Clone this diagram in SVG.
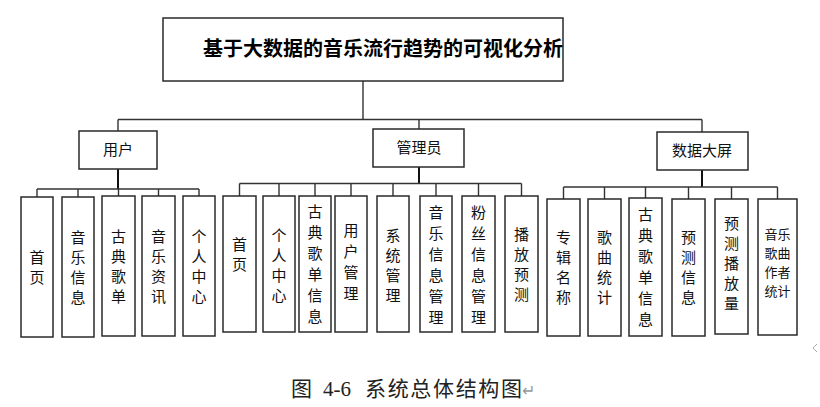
<svg xmlns="http://www.w3.org/2000/svg" width="820" height="407" viewBox="0 0 820 407">
<style>
.box{fill:#fff;stroke:#2a2a2a;stroke-width:1.5}
.ln{fill:none;stroke:#333;stroke-width:1.4}
.thk{fill:none;stroke:#111;stroke-width:2}
.t{font-family:"Noto Sans CJK SC","Noto Sans CJK JP",sans-serif;font-size:15px;fill:#111;text-anchor:middle}
.t2{font-family:"Noto Sans CJK SC","Noto Sans CJK JP",sans-serif;font-size:13px;fill:#111;text-anchor:middle}
.title{font-family:"Noto Sans CJK SC",sans-serif;font-size:20px;font-weight:bold;fill:#000;text-anchor:middle}
.cap{font-family:"Liberation Serif","Noto Sans CJK SC",serif;font-size:21px;fill:#222}
</style>
<rect width="820" height="407" fill="#fff"/>
<g id="connectors">
<polyline class="ln" points="363,81 363,119.5"/>
<polyline class="ln" points="118,119.5 702,119.5"/>
<polyline class="ln" points="118,119.5 118,131"/>
<polyline class="ln" points="419,119.5 419,129"/>
<polyline class="ln" points="702,119.5 702,132"/>
<polyline class="thk" points="118,169 118,189"/>
<polyline class="ln" points="37,189 199,189"/>
<path class="ln" d="M37,189V197M78,189V197M118.5,189V196M158.5,189V196M199,189V196"/>
<polyline class="thk" points="419,167 419,183.5"/>
<polyline class="ln" points="239.5,183.5 521.5,183.5"/>
<path class="ln" d="M239.5,183.5V196M279,183.5V196M315,183.5V196M351,183.5V196M393,183.5V196M436,183.5V196M478.5,183.5V196M521.5,183.5V196"/>
<polyline class="thk" points="702,170 702,187"/>
<polyline class="ln" points="563.5,187 777.5,187"/>
<path class="ln" d="M563.5,187V199M604.5,187V199M645.5,187V198M688.5,187V199M731.5,187V199M777.5,187V199"/>
</g>
<g id="root"><rect class="box" x="163" y="18" width="400" height="63"/><text class="title" x="383" y="56">基于大数据的音乐流行趋势的可视化分析</text></g>
<g id="user"><rect class="box" x="79" y="131" width="78" height="38"/><text class="t" x="118" y="155">用户</text></g>
<g id="admin"><rect class="box" x="373" y="129" width="91" height="38"/><text class="t" x="419" y="153">管理员</text></g>
<g id="screen"><rect class="box" x="657" y="132" width="91" height="38"/><text class="t" x="702" y="156">数据大屏</text></g>

<g id="u1"><rect class="box" x="21" y="197" width="32" height="140"/><text class="t"><tspan x="37" y="262.5">首</tspan><tspan x="37" y="282.5">页</tspan></text></g>
<g id="u2"><rect class="box" x="62" y="197" width="32" height="140"/><text class="t"><tspan x="78" y="242.5">音</tspan><tspan x="78" y="262.5">乐</tspan><tspan x="78" y="282.5">信</tspan><tspan x="78" y="302.5">息</tspan></text></g>
<g id="u3"><rect class="box" x="102" y="196" width="33" height="140"/><text class="t"><tspan x="118.5" y="242">古</tspan><tspan x="118.5" y="262">典</tspan><tspan x="118.5" y="282">歌</tspan><tspan x="118.5" y="302">单</tspan></text></g>
<g id="u4"><rect class="box" x="142" y="196" width="33" height="140"/><text class="t"><tspan x="158.5" y="242">音</tspan><tspan x="158.5" y="262">乐</tspan><tspan x="158.5" y="282">资</tspan><tspan x="158.5" y="302">讯</tspan></text></g>
<g id="u5"><rect class="box" x="183" y="196" width="32" height="140"/><text class="t"><tspan x="199" y="242">个</tspan><tspan x="199" y="262">人</tspan><tspan x="199" y="282">中</tspan><tspan x="199" y="302">心</tspan></text></g>

<g id="a1"><rect class="box" x="223" y="196" width="33" height="136"/><text class="t"><tspan x="239.5" y="249.5">首</tspan><tspan x="239.5" y="269.5">页</tspan></text></g>
<g id="a2"><rect class="box" x="263" y="196" width="32" height="136"/><text class="t"><tspan x="279" y="240.5">个</tspan><tspan x="279" y="260.5">人</tspan><tspan x="279" y="280.5">中</tspan><tspan x="279" y="300.5">心</tspan></text></g>
<g id="a3"><rect class="box" x="299" y="196" width="32" height="136"/><text class="t"><tspan x="315" y="217">古</tspan><tspan x="315" y="238">典</tspan><tspan x="315" y="259">歌</tspan><tspan x="315" y="280">单</tspan><tspan x="315" y="301">信</tspan><tspan x="315" y="322">息</tspan></text></g>
<g id="a4"><rect class="box" x="335" y="196" width="32" height="136"/><text class="t"><tspan x="351" y="236">用</tspan><tspan x="351" y="257">户</tspan><tspan x="351" y="278">管</tspan><tspan x="351" y="299">理</tspan></text></g>
<g id="a5"><rect class="box" x="377" y="196" width="32" height="136"/><text class="t"><tspan x="393" y="240.5">系</tspan><tspan x="393" y="260.5">统</tspan><tspan x="393" y="280.5">管</tspan><tspan x="393" y="300.5">理</tspan></text></g>
<g id="a6"><rect class="box" x="420" y="196" width="32" height="136"/><text class="t"><tspan x="436" y="218">音</tspan><tspan x="436" y="239">乐</tspan><tspan x="436" y="260">信</tspan><tspan x="436" y="281">息</tspan><tspan x="436" y="302">管</tspan><tspan x="436" y="323">理</tspan></text></g>
<g id="a7"><rect class="box" x="462" y="196" width="33" height="136"/><text class="t"><tspan x="478.5" y="218">粉</tspan><tspan x="478.5" y="239">丝</tspan><tspan x="478.5" y="260">信</tspan><tspan x="478.5" y="281">息</tspan><tspan x="478.5" y="302">管</tspan><tspan x="478.5" y="323">理</tspan></text></g>
<g id="a8"><rect class="box" x="505" y="196" width="33" height="136"/><text class="t"><tspan x="521.5" y="239.5">播</tspan><tspan x="521.5" y="259.5">放</tspan><tspan x="521.5" y="279.5">预</tspan><tspan x="521.5" y="299.5">测</tspan></text></g>

<g id="d1"><rect class="box" x="547" y="199" width="33" height="137"/><text class="t"><tspan x="563.5" y="242.5">专</tspan><tspan x="563.5" y="262.5">辑</tspan><tspan x="563.5" y="282.5">名</tspan><tspan x="563.5" y="302.5">称</tspan></text></g>
<g id="d2"><rect class="box" x="588" y="199" width="33" height="137"/><text class="t"><tspan x="604.5" y="242.5">歌</tspan><tspan x="604.5" y="262.5">曲</tspan><tspan x="604.5" y="282.5">统</tspan><tspan x="604.5" y="302.5">计</tspan></text></g>
<g id="d3"><rect class="box" x="629" y="198" width="33" height="138"/><text class="t"><tspan x="645.5" y="220">古</tspan><tspan x="645.5" y="241">典</tspan><tspan x="645.5" y="262">歌</tspan><tspan x="645.5" y="283">单</tspan><tspan x="645.5" y="304">信</tspan><tspan x="645.5" y="325">息</tspan></text></g>
<g id="d4"><rect class="box" x="672" y="199" width="33" height="137"/><text class="t"><tspan x="688.5" y="242.5">预</tspan><tspan x="688.5" y="262.5">测</tspan><tspan x="688.5" y="282.5">信</tspan><tspan x="688.5" y="302.5">息</tspan></text></g>
<g id="d5"><rect class="box" x="715" y="199" width="33" height="135"/><text class="t"><tspan x="731.5" y="228.5">预</tspan><tspan x="731.5" y="248.5">测</tspan><tspan x="731.5" y="268.5">播</tspan><tspan x="731.5" y="288.5">放</tspan><tspan x="731.5" y="308.5">量</tspan></text></g>
<g id="d6"><rect class="box" x="758" y="199" width="39" height="136"/><text class="t2"><tspan x="777.5" y="239">音乐</tspan><tspan x="777.5" y="258">歌曲</tspan><tspan x="777.5" y="277">作者</tspan><tspan x="777.5" y="296">统计</tspan></text></g>

<path d="M817,344 L813,348 L817,352" fill="none" stroke="#aaa" stroke-width="1"/>
<text class="cap" y="396"><tspan x="291">图</tspan><tspan x="323">4-6</tspan><tspan x="365" textLength="157" lengthAdjust="spacing">系统总体结构图</tspan><tspan x="522" fill="#999" font-size="16">↵</tspan></text>
</svg>
